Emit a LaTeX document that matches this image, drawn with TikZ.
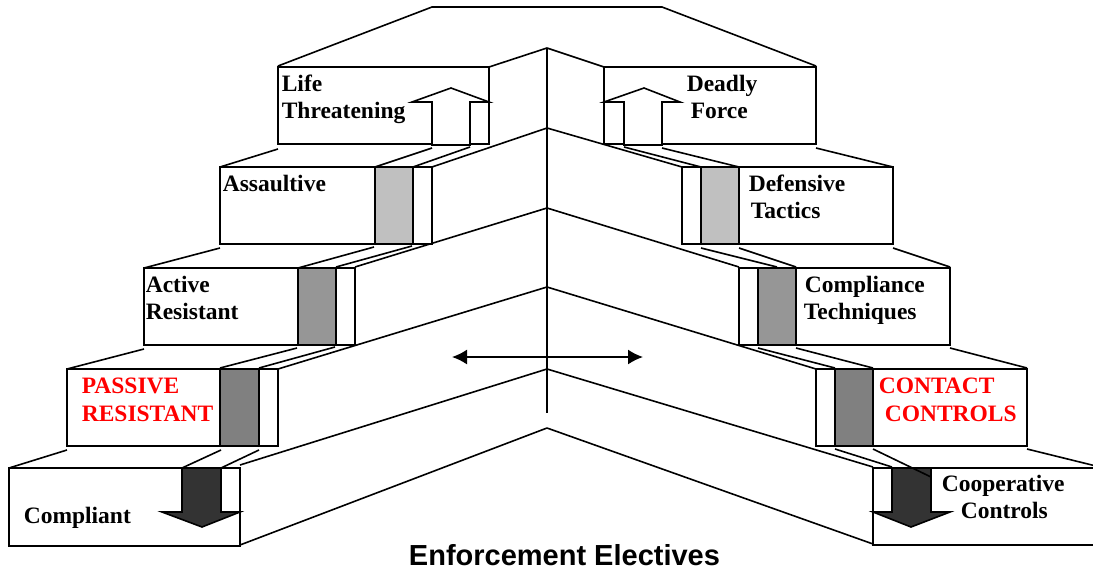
\documentclass[tikz,border=0pt]{standalone}
\usepackage{fontspec}
\setmainfont{Liberation Serif}
\setsansfont{Liberation Sans}
\usetikzlibrary{arrows.meta}
\definecolor{grayA}{HTML}{C0C0C0}
\definecolor{grayB}{HTML}{969696}
\definecolor{grayC}{HTML}{808080}
\definecolor{grayD}{HTML}{333333}
\definecolor{lblred}{HTML}{FF0000}
\tikzset{bigtip/.tip={Latex[length=15pt,width=15pt]}}
\begin{document}
\begin{tikzpicture}[x=1pt,y=-1pt,line width=1.6pt,
  frontbox/.style={draw=black,fill=white},
  lbl/.style={font=\bfseries\fontsize{23.5}{27}\selectfont,inner sep=0pt,anchor=base west},
  redlbl/.style={lbl,text=lblred}]
\useasboundingbox (0,0) rectangle (1093,570);
\clip (0,0) rectangle (1093,570);
% ridge points on the centre line
\coordinate (r0) at (547,48);
\coordinate (r1) at (547,128);
\coordinate (r2) at (547,208);
\coordinate (r3) at (547,287);
\coordinate (r4) at (547,369);
\coordinate (r5) at (547,428);
\coordinate (rbot) at (547,413);
% top face
\draw (278,66) -- (432,7) -- (662,7) -- (816,66);
% centre line
\draw (r0) -- (rbot);
% left ridge lines
\draw (r0) -- (489,67);
\draw (r1) -- (432,167);
\draw (r2) -- (355,267);
\draw (r3) -- (278,369);
\draw (r4) -- (240,465);
\draw (r5) -- (240,545);
% right ridge lines
\draw (r0) -- (604,67);
\draw (r1) -- (682,167);
\draw (r2) -- (739,267);
\draw (r3) -- (816,369);
\draw (r4) -- (873,467);
\draw (r5) -- (873,544);
% left step connectors
\draw (220,167) -- (278,149);
\draw (375,167) -- (432,148);
\draw (413,167) -- (470,147);
\draw (144,268) -- (220,248);
\draw (298,268) -- (374,247);
\draw (336,267) -- (412,246);
\draw (67,369) -- (144,349);
\draw (220,368) -- (297,348);
\draw (259,368) -- (335,347);
\draw (9,468) -- (67,450);
\draw (182,468) -- (221,450);
\draw (221,468) -- (259,450);
% right step connectors
\draw (624,147) -- (701,167);
\draw (662,148) -- (739,167);
\draw (816,148) -- (893,167);
\draw (701,248) -- (777,267);
\draw (739,248) -- (796,267);
\draw (893,248) -- (950,267);
\draw (758,348) -- (835,368);
\draw (796,348) -- (873,368);
\draw (950,348) -- (1027,368);
\draw (835,449) -- (892,467);
\draw (1027,449) -- (1100,467);
% left boxes
\draw[frontbox] (278,67) rectangle (489,144);
\draw[frontbox] (220,167) rectangle (432,244);
\draw[draw=black,fill=grayA] (375,167) rectangle (413,244);
\draw[frontbox] (144,268) rectangle (355,345);
\draw[draw=black,fill=grayB] (298,268) rectangle (336,345);
\draw[frontbox] (67,369) rectangle (278,446);
\draw[draw=black,fill=grayC] (220,369) rectangle (259,446);
\draw[frontbox] (9,468) rectangle (240,546);
% right boxes
\draw[frontbox] (604,67) rectangle (816,144);
\draw[frontbox] (682,167) rectangle (893,244);
\draw[draw=black,fill=grayA] (701,167) rectangle (739,244);
\draw[frontbox] (739,268) rectangle (950,345);
\draw[draw=black,fill=grayB] (758,268) rectangle (796,345);
\draw[frontbox] (816,369) rectangle (1027,446);
\draw[draw=black,fill=grayC] (835,369) rectangle (873,446);
\draw[frontbox] (873,468) rectangle (1110,545);
% block arrows
\draw[draw=black,fill=white] (432,145) -- (432,102) -- (412,102) -- (451,88) -- (489,102) -- (470,102) -- (470,145) -- cycle;
\draw[draw=black,fill=white] (624,145) -- (624,102) -- (604,102) -- (644,88) -- (680,102) -- (662,102) -- (662,145) -- cycle;
\draw[draw=black,fill=grayD] (182,468) -- (221,468) -- (221,512) -- (240,512) -- (202,527) -- (162,512) -- (182,512) -- cycle;
\draw[draw=black,fill=grayD] (892,468) -- (931,468) -- (931,512) -- (950,512) -- (911,527) -- (873,512) -- (892,512) -- cycle;
\draw (873,449) -- (931,477);
% double arrow
\coordinate (al) at (452,357);
\coordinate (ar) at (643,357);
\draw[bigtip-bigtip] (al) -- (ar);
% labels
\node[lbl] (life) at (281,91) {Life};
\node[lbl] (threat) at (281,118) {Threatening};
\node[lbl] (assault) at (222,191) {Assaultive};
\node[lbl] (active) at (145,292) {Active};
\node[lbl] (resist) at (145,319) {Resistant};
\node[redlbl] (passive) at (81,393) {PASSIVE};
\node[redlbl] (presist) at (81,421) {RESISTANT};
\node[lbl] (compliant) at (23,523) {Compliant};
\node[lbl] (deadly) at (686,91) {Deadly};
\node[lbl] (force) at (690,118) {Force};
\node[lbl] (defens) at (748,191) {Defensive};
\node[lbl] (tactics) at (750,218) {Tactics};
\node[lbl] (complia) at (804,292) {Compliance};
\node[lbl] (techn) at (803,319) {Techniques};
\node[redlbl] (contact) at (878,393) {CONTACT};
\node[redlbl] (controls) at (884,421) {CONTROLS};
\node[lbl] (coop) at (941,491) {Cooperative};
\node[lbl] (ccontrols) at (960,518) {Controls};
\node[font=\sffamily\bfseries\fontsize{29}{33}\selectfont,inner sep=0pt,anchor=base] (title) at (564.5,565) {Enforcement Electives};
\end{tikzpicture}
\end{document}
